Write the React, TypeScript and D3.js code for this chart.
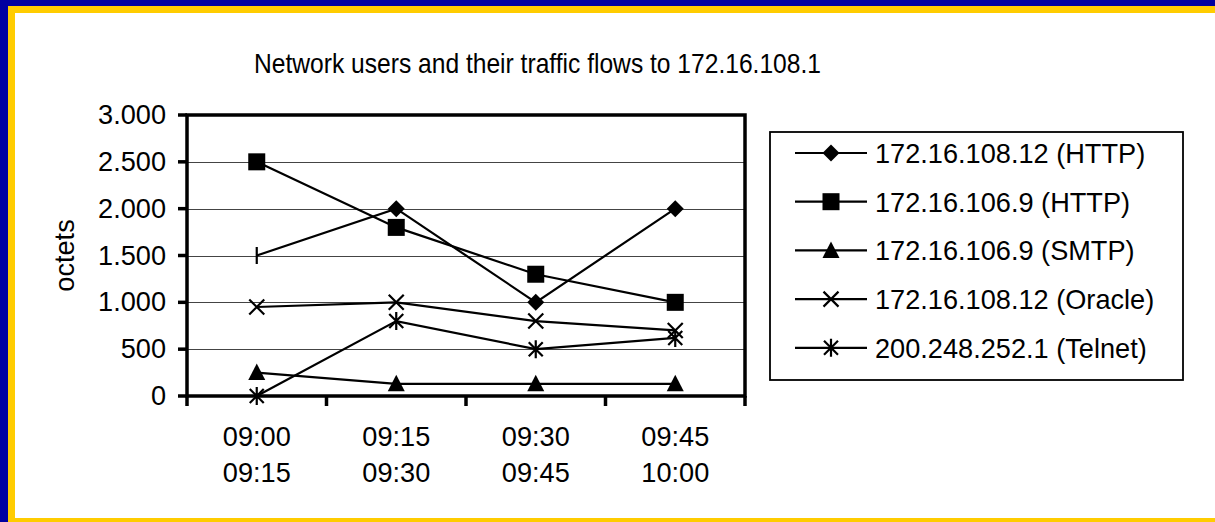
import React from "react";
import * as d3 from "d3";

const categories = ["09:00\n09:15", "09:15\n09:30", "09:30\n09:45", "09:45\n10:00"];
const seriesNames = [
  "172.16.108.12 (HTTP)",
  "172.16.106.9 (HTTP)",
  "172.16.106.9 (SMTP)",
  "172.16.108.12 (Oracle)",
  "200.248.252.1 (Telnet)",
];
const seriesMarkers = ["diamond", "square", "triangle", "x", "star"];
const http108 = [1500, 2000, 1000, 2000];
const http106 = [2500, 1800, 1300, 1000];
const smtp106 = [250, 130, 130, 130];
const oracle108 = [950, 1000, 800, 700];
const telnet200 = [0, 800, 500, 620];
const seriesValues = [http108, http106, smtp106, oracle108, telnet200];
const yTicks = [0, 500, 1000, 1500, 2000, 2500, 3000];
const title = "Network users and their traffic flows to 172.16.108.1";
const yTitle = "octets";

const W = 1215;
const H = 522;
const FONT = "'Liberation Sans', Arial, sans-serif";
const FS = 28;
const SX = 0.97;

function T({
  x,
  y,
  anchor = "start",
  children,
  sx = SX,
  rotate = 0,
}: {
  x: number;
  y: number;
  anchor?: string;
  children: React.ReactNode;
  sx?: number;
  rotate?: number;
}) {
  return (
    <g transform={`translate(${x},${y}) rotate(${rotate}) scale(${sx},1)`}>
      <text x={0} y={0} fontSize={FS} textAnchor={anchor} fill="#000">
        {children}
      </text>
    </g>
  );
}

function Marker({ type, x, y, first }: { type: string; x: number; y: number; first?: boolean }) {
  if (type === "diamond" && first) {
    return <line x1={x} x2={x} y1={y - 8.5} y2={y + 8.5} stroke="#000" strokeWidth={2.2} />;
  }
  switch (type) {
    case "diamond":
      return <path d={`M${x},${y - 8.5}L${x + 8.5},${y}L${x},${y + 8.5}L${x - 8.5},${y}Z`} fill="#000" />;
    case "square":
      return <rect x={x - 8.5} y={y - 8.5} width={17} height={17} fill="#000" />;
    case "triangle":
      return <path d={`M${x},${y - 9}L${x + 8.5},${y + 7.5}L${x - 8.5},${y + 7.5}Z`} fill="#000" />;
    case "x":
      return (
        <path d={`M${x - 7.5},${y - 7.5}L${x + 7.5},${y + 7.5}M${x - 7.5},${y + 7.5}L${x + 7.5},${y - 7.5}`} stroke="#000" strokeWidth={2.2} />
      );
    case "star":
      return (
        <path
          d={`M${x - 7},${y - 7}L${x + 7},${y + 7}M${x - 7},${y + 7}L${x + 7},${y - 7}M${x},${y - 9}L${x},${y + 9}`}
          stroke="#000"
          strokeWidth={2.2}
        />
      );
  }
  return null;
}

export default function App() {
  const x = d3.scaleBand<string>().domain(categories).range([187, 745]).padding(0);
  const y = d3.scaleLinear().domain([0, 3000]).range([396, 115]);
  const cx = (c: string) => (x(c) as number) + x.bandwidth() / 2;
  const line = d3
    .line<number>()
    .x((_, i) => cx(categories[i]))
    .y((v) => y(v));
  const fmt = (v: number) => d3.format(",")(v).replace(/,/g, ".");
  const boundaries = [...categories.map((c) => x(c) as number), 745];
  const legendRowY = (i: number) => 153 + i * 48.7;

  return (
    <svg width={W} height={H} style={{ position: "absolute", left: 0, top: 0, display: "block" }} fontFamily={FONT}>
      <rect x={0} y={0} width={W} height={H} fill="#0000A0" />
      <rect x={8} y={6} width={W} height={H} fill="#FFCC00" />
      <rect x={15} y={13} width={W} height={518 - 13} fill="#FFFFFF" />

      <text x={254} y={73} fontSize={FS} fill="#000" textLength={567} lengthAdjust="spacingAndGlyphs">
        {title}
      </text>

      {/* gridlines */}
      {yTicks.slice(1, -1).map((t) => (
        <line key={t} x1={187} x2={745} y1={Math.round(y(t)) + 0.5} y2={Math.round(y(t)) + 0.5} stroke="#444" strokeWidth={1.2} />
      ))}

      {/* plot border */}
      <rect x={187} y={115} width={745 - 187} height={396 - 115} fill="none" stroke="#000" strokeWidth={3.5} />

      {/* y ticks and labels */}
      {yTicks.map((t) => (
        <g key={t}>
          <line x1={178} x2={187} y1={y(t)} y2={y(t)} stroke="#000" strokeWidth={3.5} />
          <T x={166} y={y(t) + 9} anchor="end">
            {fmt(t)}
          </T>
        </g>
      ))}

      {/* x ticks */}
      {boundaries.map((b, i) => (
        <line key={i} x1={b} x2={b} y1={396} y2={406} stroke="#000" strokeWidth={3.5} />
      ))}
      {categories.map((c) => {
        const parts = c.split("\n");
        return (
          <g key={c}>
            <T x={cx(c)} y={446} anchor="middle">
              {parts[0]}
            </T>
            <T x={cx(c)} y={482} anchor="middle">
              {parts[1]}
            </T>
          </g>
        );
      })}

      <T x={74} y={255.5} anchor="middle" rotate={-90}>
        {yTitle}
      </T>

      {/* series */}
      {seriesValues.map((vals, si) => (
        <g key={si}>
          <path d={line(vals) as string} fill="none" stroke="#000" strokeWidth={2.2} />
          {vals.map((v, i) => (
            <Marker key={i} type={seriesMarkers[si]} x={cx(categories[i])} y={y(v)} first={i === 0} />
          ))}
        </g>
      ))}

      {/* legend */}
      <rect x={770} y={132} width={1183 - 770} height={380 - 132} fill="#fff" stroke="#000" strokeWidth={1.8} />
      {seriesNames.map((n, i) => (
        <g key={n}>
          <line x1={795} x2={867} y1={legendRowY(i)} y2={legendRowY(i)} stroke="#000" strokeWidth={2.2} />
          <Marker type={seriesMarkers[i]} x={831} y={legendRowY(i)} />
          <T x={875} y={legendRowY(i) + 10}>{n}</T>
        </g>
      ))}
    </svg>
  );
}
